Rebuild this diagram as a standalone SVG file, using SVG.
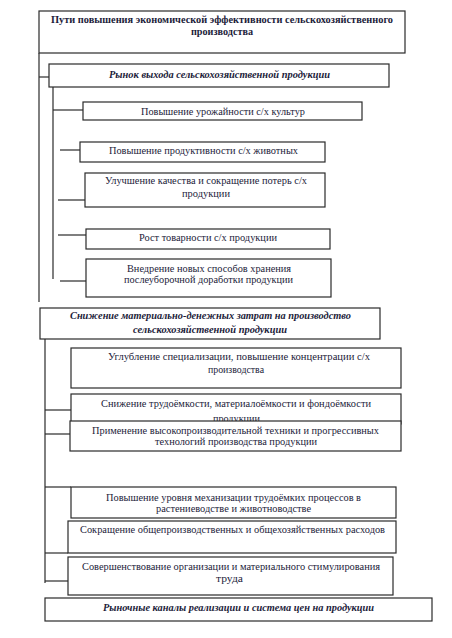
<svg xmlns="http://www.w3.org/2000/svg" width="452" height="638" viewBox="0 0 452 638">
<style>
.box{fill:#fff;stroke:#2a2a2a;stroke-width:1.2}
.ln{stroke:#2a2a2a;stroke-width:1.2;fill:none}
.t text{font-size:10px;fill:#1c1c3a;text-anchor:middle}
.b{font-weight:bold}
.bi{font-weight:bold;font-style:italic}
</style>
<rect width="452" height="638" fill="#fff"/>
<g id="connectors">
<line class="ln" x1="39" y1="53" x2="39" y2="302"/>
<line class="ln" x1="39" y1="77" x2="49" y2="77"/>
<line class="ln" x1="53" y1="87" x2="53" y2="279"/>
<line class="ln" x1="53" y1="110" x2="83" y2="110"/>
<line class="ln" x1="60" y1="150" x2="80" y2="150"/>
<line class="ln" x1="58" y1="200" x2="85" y2="200"/>
<line class="ln" x1="58" y1="235" x2="86" y2="235"/>
<line class="ln" x1="60" y1="281" x2="86" y2="281"/>
<line class="ln" x1="46" y1="322.5" x2="69" y2="322.5"/>
<line class="ln" x1="43" y1="335" x2="45" y2="335"/>
<line class="ln" x1="45" y1="334" x2="45" y2="583"/>
<line class="ln" x1="45" y1="410" x2="71" y2="410"/>
<line class="ln" x1="45" y1="434" x2="70" y2="434"/>
<line class="ln" x1="45" y1="487" x2="71" y2="487"/>
<line class="ln" x1="45" y1="553" x2="68" y2="553"/>
<line class="ln" x1="45" y1="581" x2="68" y2="581"/>
</g>
<g class="t" font-family="'Liberation Serif', 'DejaVu Serif', 'Times New Roman', serif">
<g id="n1"><rect class="box" x="39" y="11" width="366" height="42"/>
<text class="b" x="222" y="23" textLength="342" lengthAdjust="spacingAndGlyphs">Пути повышения экономической эффективности сельскохозяйственного</text>
<text class="b" x="222" y="35" textLength="62" lengthAdjust="spacingAndGlyphs">производства</text></g>
<g id="n2"><rect class="box" x="49" y="64" width="340" height="23"/>
<text class="bi" x="219.5" y="78" textLength="221" lengthAdjust="spacingAndGlyphs">Рынок выхода сельскохозяйственной продукции</text></g>
<g id="n3"><rect class="box" x="83" y="102" width="279" height="18"/>
<text x="223" y="115" textLength="164" lengthAdjust="spacingAndGlyphs">Повышение урожайности с/х культур</text></g>
<g id="n4"><rect class="box" x="80" y="142" width="245" height="20"/>
<text x="203.5" y="154" textLength="189" lengthAdjust="spacingAndGlyphs">Повышение продуктивности с/х животных</text></g>
<g id="n5"><rect class="box" x="85" y="173" width="240" height="34"/>
<text x="206" y="184" textLength="202" lengthAdjust="spacingAndGlyphs">Улучшение качества и сокращение потерь с/х</text>
<text x="206" y="197" textLength="48" lengthAdjust="spacingAndGlyphs">продукции</text></g>
<g id="n6"><rect class="box" x="86" y="229" width="244" height="20"/>
<text x="208" y="241" textLength="138" lengthAdjust="spacingAndGlyphs">Рост товарности с/х продукции</text></g>
<g id="n7"><rect class="box" x="86" y="259" width="245" height="38"/>
<text x="209" y="272" textLength="164" lengthAdjust="spacingAndGlyphs">Внедрение новых способов хранения</text>
<text x="208.5" y="283" textLength="169" lengthAdjust="spacingAndGlyphs">послеуборочной доработки продукции</text></g>
<g id="n8"><rect class="box" x="40" y="308" width="340" height="31"/>
<text class="bi" x="210.5" y="319" textLength="281" lengthAdjust="spacingAndGlyphs">Снижение материально-денежных затрат на производство</text>
<text class="bi" x="210" y="333" textLength="154" lengthAdjust="spacingAndGlyphs">сельскохозяйственной продукции</text></g>
<g id="n9"><rect class="box" x="71" y="348" width="330" height="40"/>
<text x="239" y="360" textLength="262" lengthAdjust="spacingAndGlyphs">Углубление специализации, повышение концентрации с/х</text>
<text x="236" y="373" textLength="56" lengthAdjust="spacingAndGlyphs">производства</text></g>
<g id="n10"><rect class="box" x="71" y="394" width="330" height="30"/>
<text x="236" y="407" textLength="270" lengthAdjust="spacingAndGlyphs">Снижение трудоёмкости, материалоёмкости и фондоёмкости</text>
<text x="236.5" y="422" textLength="47" lengthAdjust="spacingAndGlyphs">продукции</text></g>
<g id="n11"><rect class="box" x="70" y="421" width="331" height="30"/>
<text x="235.5" y="434" textLength="287" lengthAdjust="spacingAndGlyphs">Применение высокопроизводительной техники и прогрессивных</text>
<text x="236" y="445" textLength="162" lengthAdjust="spacingAndGlyphs">технологий производства продукции</text></g>
<g id="n12"><rect class="box" x="71" y="487" width="325" height="31"/>
<text x="233.5" y="501" textLength="255" lengthAdjust="spacingAndGlyphs">Повышение уровня механизации трудоёмких процессов в</text>
<text x="233.5" y="512" textLength="155" lengthAdjust="spacingAndGlyphs">растениеводстве и животноводстве</text></g>
<g id="n13"><rect class="box" x="68" y="521" width="328" height="32"/>
<text x="232.5" y="533" textLength="305" lengthAdjust="spacingAndGlyphs">Сокращение общепроизводственных и общехозяйственных расходов</text></g>
<g id="n14"><rect class="box" x="68" y="557" width="325" height="38"/>
<text x="231" y="570" textLength="298" lengthAdjust="spacingAndGlyphs">Совершенствование организации и материального стимулирования</text>
<text x="229.5" y="582" textLength="27" lengthAdjust="spacingAndGlyphs">труда</text></g>
<g id="n15"><rect class="box" x="45" y="598" width="387" height="23"/>
<text class="bi" x="238.5" y="611" textLength="271" lengthAdjust="spacingAndGlyphs">Рыночные каналы реализации и система цен на продукции</text></g>
</g>
</svg>
